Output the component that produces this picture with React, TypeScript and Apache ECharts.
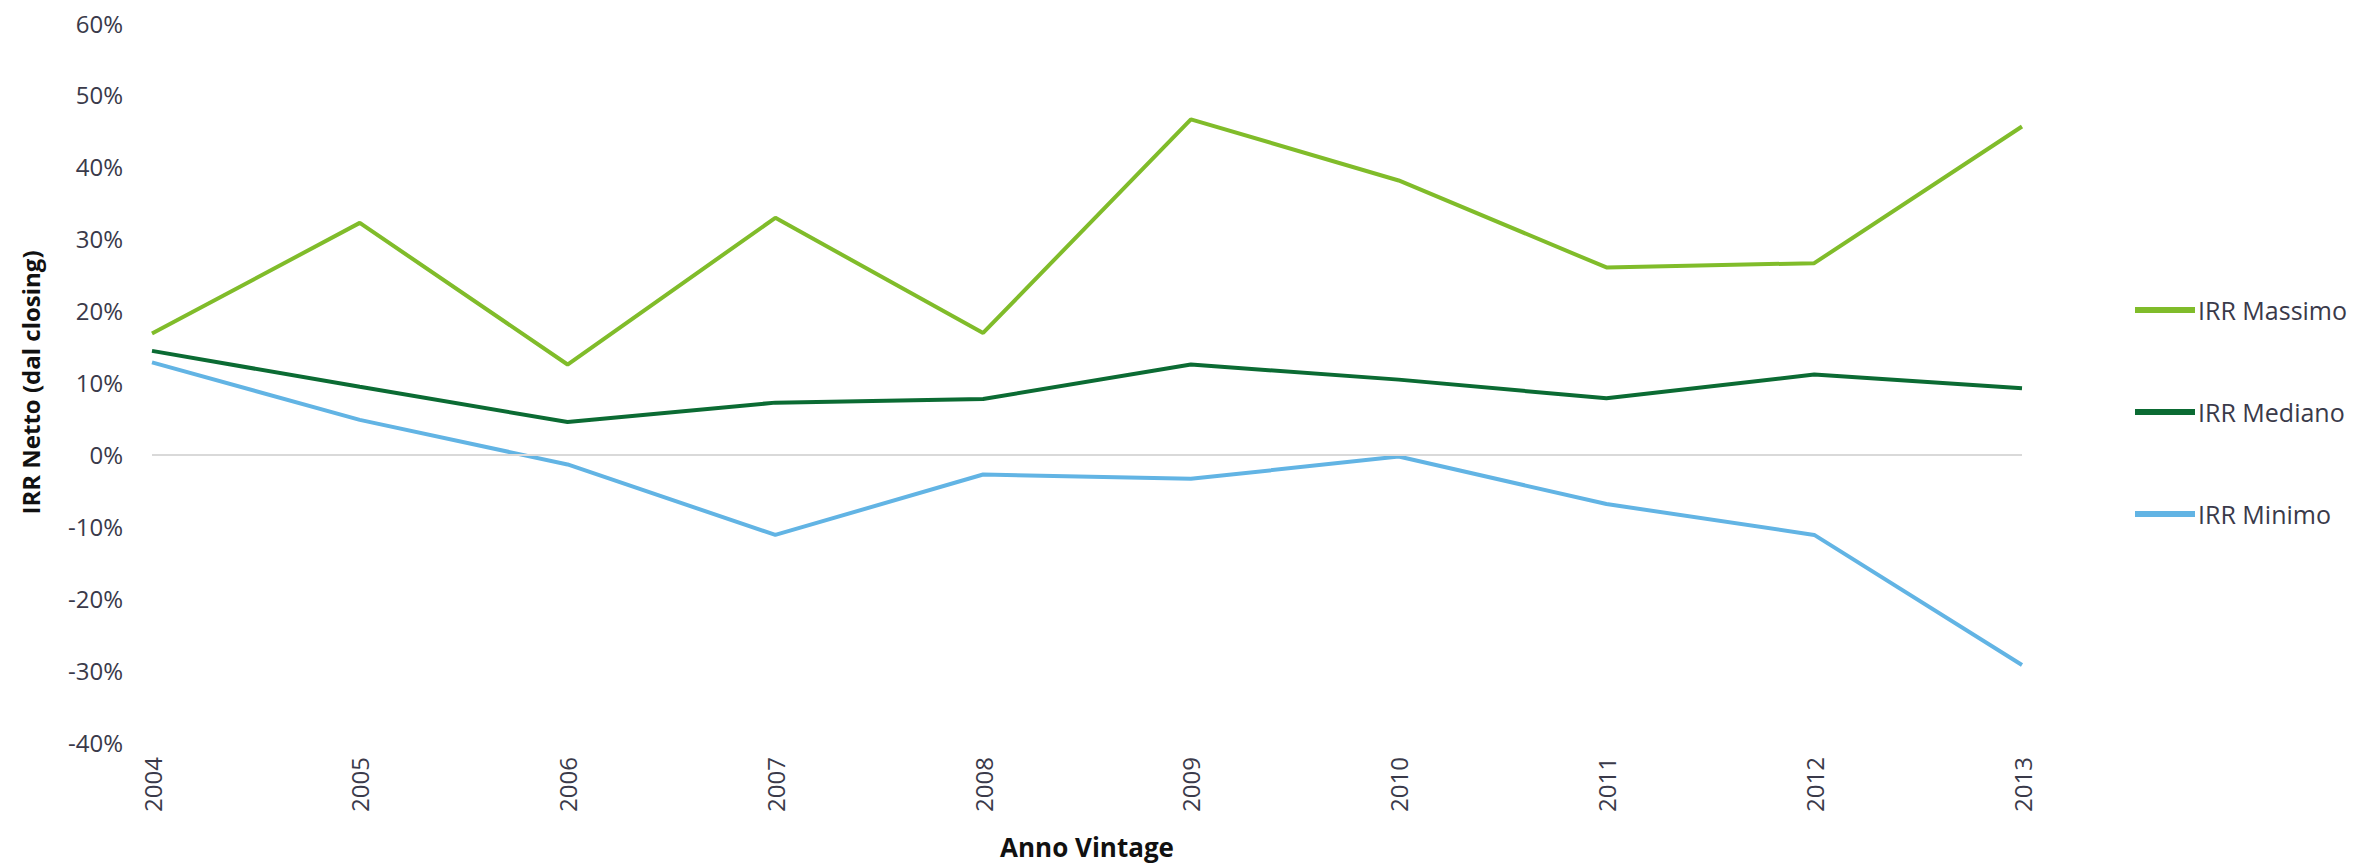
import React, { useEffect, useRef } from "react";
import * as echarts from "echarts";

const years = ["2004", "2005", "2006", "2007", "2008", "2009", "2010", "2011", "2012", "2013"];
const irrMassimo = [16.8, 32.2, 12.5, 32.9, 16.9, 46.6, 38.1, 26.0, 26.6, 45.6];
const irrMediano = [14.4, 9.4, 4.5, 7.2, 7.7, 12.5, 10.4, 7.8, 11.1, 9.2];
const irrMinimo = [12.8, 4.8, -1.4, -11.2, -2.8, -3.4, -0.3, -6.9, -11.2, -29.3];
const seriesNames = ["IRR Massimo", "IRR Mediano", "IRR Minimo"];
const colors = ["#80bc2a", "#0b6b33", "#62b4e4"];

export default function App() {
  const ref = useRef<HTMLDivElement>(null);
  useEffect(() => {
    if (!ref.current) return;
    const chart = echarts.init(ref.current, null, { renderer: "svg" });
    const font = "'Open Sans', sans-serif";
    const lineSeries = (name: string, data: number[], color: string, extra: any = {}) => ({
      name,
      type: "line",
      data,
      symbol: "none",
      lineStyle: { color, width: 4 },
      itemStyle: { color },
      ...extra,
    });
    chart.setOption({
      animation: false,
      backgroundColor: "#ffffff",
      grid: { left: 152, right: 352, top: 23, bottom: 120 },
      legend: {
        orient: "vertical",
        left: 2130,
        top: 291,
        itemWidth: 60,
        itemHeight: 6,
        itemGap: 74,
        icon: "rect",
        data: seriesNames,
        textStyle: { fontFamily: font, fontSize: 25, color: "#3a3a4a", lineHeight: 28, padding: [0, 0, 0, -2] },
      },
      xAxis: {
        type: "category",
        data: years,
        boundaryGap: false,
        axisLine: { show: false },
        axisTick: { show: false },
        splitLine: { show: false },
        axisLabel: { rotate: 90, margin: 15, fontFamily: font, fontSize: 24, color: "#3a3a4a" },
        name: "Anno Vintage",
        nameLocation: "middle",
        nameGap: 92,
        nameTextStyle: { fontFamily: font, fontSize: 26, fontWeight: "bold", color: "#111" },
      },
      yAxis: {
        type: "value",
        min: -40,
        max: 60,
        interval: 10,
        axisLine: { show: false },
        axisTick: { show: false },
        splitLine: { show: false },
        axisLabel: { formatter: "{value}%", margin: 29, fontFamily: font, fontSize: 24, color: "#3a3a4a" },
        name: "IRR Netto (dal closing)",
        nameLocation: "middle",
        nameGap: 110,
        nameTextStyle: { fontFamily: font, fontSize: 24, fontWeight: "bold", color: "#111" },
      },
      series: [
        lineSeries(seriesNames[0], irrMassimo, colors[0], {
          markLine: {
            silent: true,
            symbol: "none",
            label: { show: false },
            lineStyle: { color: "#d9d9d9", width: 2, type: "solid" },
            data: [{ yAxis: 0 }],
          },
        }),
        lineSeries(seriesNames[1], irrMediano, colors[1]),
        lineSeries(seriesNames[2], irrMinimo, colors[2]),
      ],
    });
    return () => chart.dispose();
  }, []);
  return (
    <div
      ref={ref}
      style={{ position: "fixed", left: 0, top: 0, width: 2374, height: 865 }}
    />
  );
}
